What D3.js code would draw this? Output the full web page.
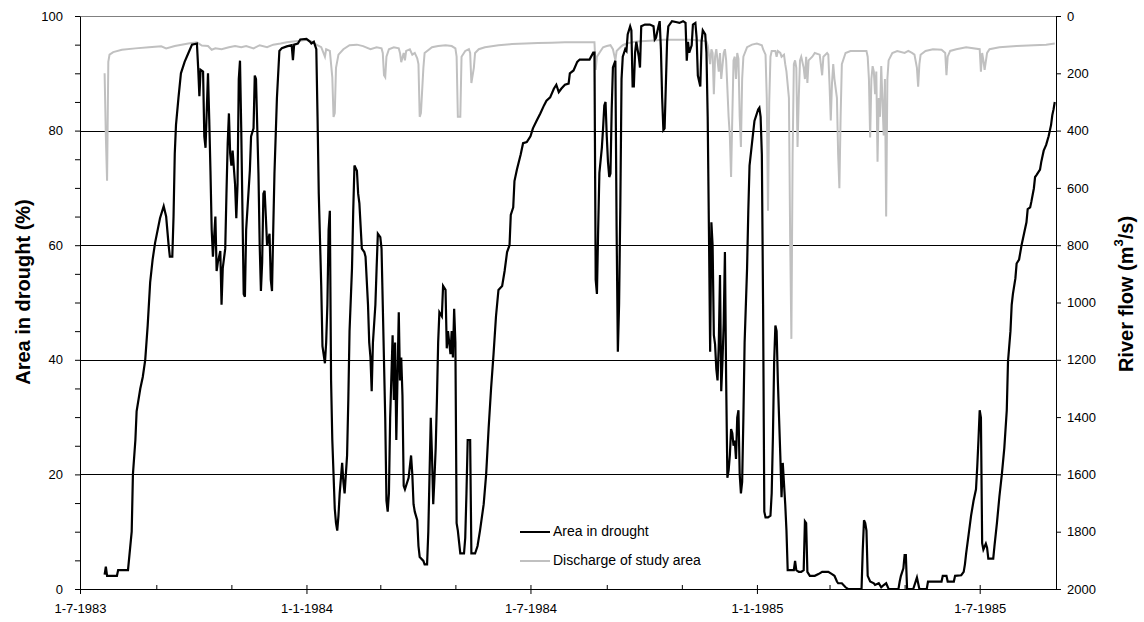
<!DOCTYPE html>
<html>
<head>
<meta charset="utf-8">
<script src="https://cdn.jsdelivr.net/npm/d3@7"></script>
<style>
body{margin:0;background:#fff;}
svg{display:block;font-family:"Liberation Sans",Arial,sans-serif;}
</style>
</head>
<body>
<svg id="chart" width="1144" height="622"></svg>
<script>
// days counted from 1-7-1983
let droughtDay=[20,21,22,30,31,39,42,43,45,46,49,51,53,55,57,59,61,65,68,70,72,73,75,76,77,78,80,82,85,88,91,95,96,97,98,100,101,102,104,105,106,107,108,110,111,112,114,115,116,118,119,120,121,122,123,124,126,127,128,129,130,131,132,133,
134,135,138,139,141,142,143,145,146,147,148,149,150,151,152,154,155,156,157,158,160,162,164,168,172,173,174,177,179,184,187,188,190,192,193,194,196,197,199,200,201,202,203,204,205,207,208,209,210,211,213,214,215,217,218,219,221,222,223,225,226,227,229,231,232,234,235,236,237,238,240,241,242,244,245,246,248,249,250,251,252,254,255,256,257,259,260,261,262,263,264,
267,269,270,271,272,274,275,276,279,280,282,283,284,285,286,287,288,289,290,291,292,294,295,297,298,299,301,302,303,304,305,306,307,308,309,312,313,314,315,317,318,321,323,325,328,330,332,334,336,338,340,343,345,347,349,350,352,353,355,358,360,363,366,368,371,374,377,379,382,385,387,389,391,394,397,398,
401,404,406,414,417,418,419,420,421,422,424,425,426,427,428,429,430,431,432,433,435,436,437,438,439,440,441,443,444,445,447,448,449,450,451,452,454,455,456,459,463,466,467,468,470,471,472,473,474,475,477,478,481,485,487,490,492,493,494,495,497,498,500,501,502,504,505,506,508,509,510,511,512,513,514,515,516,517,518,519,520,521,522,523,524,525,526,527,528,529,530,531,
532,533,534,535,536,537,538,539,540,542,543,544,546,548,551,552,553,554,555,556,557,559,561,562,563,564,565,566,567,569,570,571,573,574,575,578,580,581,582,584,586,588,589,590,591,593,597,600,603,608,611,613,615,616,619,622,624,635,636,637,638,639,640,642,645,646,649,651,653,655,657,665,666,667,669,670,671,672,677,680,681,682,688,689,700,701,704,705,710,711,716,718,719,720,722,724,726,728,729,730,731,732,733,734,736,737,738,742,743,745,747,749,751,753,754,756,757,758,760,761,763,765,767,769,770,772,773,775,776,777,780,781,783,785,787,789,790,791,792];
let droughtPct=[2.5,3.9,2.3,2.3,3.3,3.3,10,20,26,31,35,37,40,46,53.5,57.5,60.4,64.7,66.8,65,60,58,58,65,76,81,85.7,90,92,93.5,95,95.2,91,86,90.6,90.3,79,77,90,82,73,62.7,58,65,55.5,57,59,49.6,56,59.4,69,77.8,83,76,73.9,76.5,70.6,64.7,70.6,89,92.2,80.4,66,51.5,
51,62.7,73,79,80.4,89.6,89,72.5,60,52,57,69,69.5,65,60,62,54,52,62.7,72.5,85.7,93.9,94.4,94.7,94.9,92.3,95,95.2,95.9,96,95.5,95.2,95.5,94.2,82.4,69,52.9,42.4,39.4,43,49.6,62.7,66,36.4,26,14,11.5,10.2,12.8,16.7,22,18.7,16.7,23.3,33,45,56,66,73.9,73,69,67.3,59.4,58.8,58,49.6,43,40.4,34.5,43,49.6,56,62,61.4,59.4,49.6,29.9,15.4,13.5,16.7,29.9,44.3,33,43,26,48.3,36.4,40.4,33.8,18,17.4,
19.4,23.3,20,14.8,13.5,12,7.5,5.6,4.9,4.3,4.3,10,20,29.9,23.3,14.8,19.4,24.6,33,43,48.3,47.6,52.9,52.2,42,45,41,45,40.4,48.9,43,11.5,10.2,8.2,6.2,6.2,8.9,16.7,26,26,6.2,6.2,7.5,10.2,14.8,20,28,35,41,47.6,52.2,52.9,55.5,58.8,60,65.3,66.6,71.2,73.2,75.8,77.8,78,79,80.4,81.7,83,84.4,85.2,85.8,87.3,88,86.7,87.3,88,88.2,90,
90.5,92,92.4,92.4,93.6,93.6,54,51.5,62.7,72.6,77,80.4,84.4,85,79,74.5,71.9,72.5,83.7,91,92.2,62.7,41.4,49.6,66.6,89,92.9,94.2,93.9,96.8,98.2,97.5,87.7,87.7,93.6,95.5,92.9,91,98.2,98.5,98.5,98.2,95.9,96.2,98.2,99.1,94.2,85.7,80.1,80.4,95.5,98.2,99.1,98.9,98.8,99.1,98.8,92.2,95.5,93.6,94.9,98.5,98.8,96.2,89.6,87.7,95.5,97.5,96.8,93.6,82.4,62.7,41.4,64,60,44.3,42.7,38.4,36.4,42.7,54.8,34.5,39.7,46.3,58.8,36.4,19.4,20.7,23.3,27.9,27.2,25,
25.9,22.7,29.9,31.2,20,16.7,18.7,29.9,43,56,66,73.9,77.8,81.7,83.7,84,82.4,75.8,49.6,13.5,12.5,12.5,12.8,16.7,26.6,39.7,46,45,36.4,23.3,16,22,14.8,10.2,3.3,3.3,3.3,4.9,3.3,3,3,3.3,11.8,11.5,3,2.3,2.3,2.6,3,3,2.6,2.3,1.3,1,1,0.3,0,0,6.9,12,11.5,10.2,2.3,1.3,1,0.7,1,0.3,0.7,1,0,0,1.3,2.3,3.6,5.9,5.9,0,0,2,1,0,0,1.3,1.3,2.3,2.3,1.3,1.3,2.3,2.4,3,4.3,6.2,9.5,12.8,15.4,17.4,21.3,26,31.2,29.9,8,6.9,7.9,7.2,5.3,5.3,7.5,11.5,16.1,20,24.6,31.2,39.7,45,49.6,51.5,54.2,56.8,57.5,60,62,64,66.3,66.6,67.6,69.9,71.9,72.2,73.2,74.5,76.5,77.5,79,81,82.7,83.7,85];

let flowDay=[20,21,22,23,24,27,34,45,56,66,70,77,88,95,99,104,107,110,115,121,126,131,135,141,146,152,157,163,168,173,179,184,188,192,196,199,200,203,204,205,206,207,208,210,214,219,225,230,236,241,245,246,247,248,249,251,255,259,260,261,263,264,265,268,270,272,274,275,276,277,279,280,286,291,297,302,305,306,307,309,310,313,316,317,318,320,321,324,329,340,351,362,372,383,394,418,419,420,423,425,428,431,433,435,436,439,441,444,452,463,474,496,506,509,510,512,513,514,515,516,517,519,520,521,523,524,525,527,528,529,530,531,532,533,534,535,536,537,538,539,542,546,550,554,555,557,558,559,560,561,562,565,566,567,569,570,572,573,574,576,577,578,579,580,581,582,583,584,585,586,588,589,590,591,592,595,597,601,603,604,607,608,609,610,611,612,613,615,616,617,618,619,622,626,639,640,641,642,643,644,645,646,647,648,649,650,651,653,654,655,656,657,660,664,670,673,676,678,680,681,682,683,687,693,700,703,704,705,707,712,720,731,732,733,734,735,737,739,747,761,775,785,792];
let flowQ=[200,420,575,160,135,126,118,113,109,106,113,105,96,92,103,105,118,113,116,109,105,109,105,113,102,109,100,96,92,89,86,83,89,100,109,142,116,122,168,214,352,339,181,135,116,102,100,105,116,109,113,129,207,214,142,116,109,113,129,161,129,155,122,116,135,129,148,168,352,339,181,129,109,105,102,105,113,142,352,352,142,122,116,129,234,181,129,116,109,102,98,96,94,93,92,92,188,142,122,109,105,102,116,155,122,109,102,96,89,86,83,83,86,89,102,168,116,129,273,142,116,194,129,220,129,116,155,352,420,562,352,155,142,220,129,150,352,457,220,142,109,100,96,102,116,135,286,680,300,142,122,122,142,122,129,142,135,168,194,286,772,1127,483,168,155,181,457,286,155,142,181,220,142,234,155,142,129,135,207,142,129,135,240,365,234,168,220,286,483,601,352,168,129,122,122,142,220,424,220,175,194,273,194,509,286,352,175,417,220,700,220,155,129,122,129,122,129,135,181,247,168,135,122,116,118,129,207,142,122,116,109,116,194,129,155,188,129,116,109,105,102,100,96];

let pctTicks=[0,20,40,60,80,100];
let flowTicks=[0,200,400,600,800,1000,1200,1400,1600,1800,2000];
let seriesNames=["Area in drought","Discharge of study area"];
let seriesColors=["#000000","#c0c0c0"];

let t0=new Date(1983,6,1);
let t1=new Date(1985,8,1);
let mL=80,mR=1056,mT=16,mB=589;

let svg=d3.select("#chart");
let x=d3.scaleTime().domain([t0,t1]).range([mL,mR]);
let yL=d3.scaleLinear().domain([0,100]).range([mB,mT]);
let yR=d3.scaleLinear().domain([0,2000]).range([mT,mB]);

let drought=droughtDay.map((d,i)=>({t:d3.timeDay.offset(t0,d),v:droughtPct[i]}));
let flow=flowDay.map((d,i)=>({t:d3.timeDay.offset(t0,d),v:flowQ[i]}));

// plot border + gridlines
svg.append("line").attr("x1",mL).attr("x2",mR).attr("y1",mT+0.5).attr("y2",mT+0.5).style("stroke","#808080");
svg.selectAll(".grid").data(pctTicks.slice(1,-1)).enter().append("line")
  .attr("x1",mL).attr("x2",mR)
  .attr("y1",d=>Math.round(yL(d))+0.5).attr("y2",d=>Math.round(yL(d))+0.5)
  .style("stroke","#000").style("stroke-width",1);

// series
svg.append("path").datum(flow)
  .attr("d",d3.line().x(d=>x(d.t)).y(d=>yR(d.v)))
  .style("fill","none").style("stroke",seriesColors[1]).style("stroke-width",2);
svg.append("path").datum(drought)
  .attr("d",d3.line().x(d=>x(d.t)).y(d=>yL(d.v)))
  .style("fill","none").style("stroke",seriesColors[0]).style("stroke-width",2.2);

// axes
let fmt=d3.timeFormat("%-d-%-m-%Y");
let major=d3.timeMonth.every(6).range(t0,d3.timeDay.offset(t1,1));
let minor=d3.timeMonth.every(2).range(t0,d3.timeDay.offset(t1,1));

svg.append("g").attr("transform","translate(0,"+mB+")")
  .call(d3.axisBottom(x).tickValues(minor).tickSize(-4).tickSizeOuter(0).tickFormat(""));
svg.append("g").attr("transform","translate(0,"+mB+")")
  .call(d3.axisBottom(x).tickValues(major).tickSize(5).tickSizeOuter(0).tickPadding(10).tickFormat(fmt));

svg.append("g").attr("transform","translate("+mL+",0)")
  .call(d3.axisLeft(yL).tickValues(d3.range(0,101,5)).tickSize(5).tickSizeOuter(0).tickPadding(12)
  .tickFormat(d=>pctTicks.includes(d)?d:""));
svg.append("g").attr("transform","translate("+mR+",0)")
  .call(d3.axisRight(yR).tickValues(flowTicks).tickSize(5).tickSizeOuter(0).tickPadding(6).tickFormat(d3.format("d")));

svg.selectAll(".tick text").style("font-size","13px").style("fill","#000")
  .style("font-family","'Liberation Sans',Arial,sans-serif");
svg.selectAll(".domain, .tick line").style("stroke","#000");

// axis titles
svg.append("text").attr("transform","translate(25,292) rotate(-90)")
  .attr("text-anchor","middle").attr("dominant-baseline","middle")
  .style("font-size","20px").style("font-weight","bold").text("Area in drought (%)");
let rt=svg.append("text").attr("transform","translate(1128,294) rotate(-90)")
  .attr("text-anchor","middle").attr("dominant-baseline","middle")
  .style("font-size","20px").style("font-weight","bold");
rt.append("tspan").text("River flow (m");
rt.append("tspan").attr("dy","-8").style("font-size","13px").text("3");
rt.append("tspan").attr("dy","8").text("/s)");

// legend
let lg=svg.append("g").attr("transform","translate(520,532)");
seriesNames.forEach((n,i)=>{
  lg.append("line").attr("x1",0).attr("x2",30).attr("y1",i*29).attr("y2",i*29)
    .style("stroke",seriesColors[i]).style("stroke-width",2);
  lg.append("text").attr("x",33).attr("y",i*29).attr("dominant-baseline","middle")
    .style("font-size","14px").text(n);
});
</script>
</body>
</html>
